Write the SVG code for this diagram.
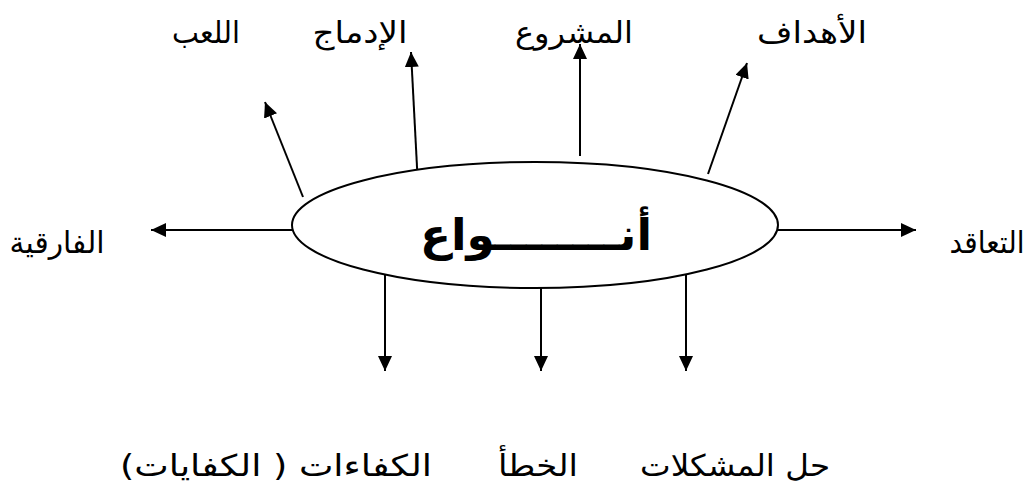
<svg xmlns="http://www.w3.org/2000/svg" width="1031" height="490" viewBox="0 0 1031 490">
  <style>
    .lbl { font-family: "DejaVu Sans", "Noto Sans", sans-serif; font-size: 30px; fill: #000; text-anchor: middle; }
    .title { font-family: "DejaVu Sans", "Noto Sans", sans-serif; font-size: 44px; font-weight: bold; fill: #000; text-anchor: middle; }
    .conn line { stroke: #000; stroke-width: 2; marker-end: url(#head); }
  </style>
  <defs>
    <!-- solid triangular arrowhead shared by all spokes -->
    <marker id="head" viewBox="0 0 15 14" refX="15" refY="7" markerWidth="15" markerHeight="14" markerUnits="userSpaceOnUse" orient="auto">
      <path d="M0,0 L15,7 L0,14 Z" fill="#000"/>
    </marker>
  </defs>
  <rect width="1031" height="490" fill="#fff"/>

  <g id="connectors" class="conn">
    <line x1="580" y1="156" x2="580" y2="44"/>
    <line x1="418" y1="186" x2="411" y2="52"/>
    <line x1="303" y1="197" x2="265" y2="102"/>
    <line x1="708" y1="174" x2="747" y2="63"/>
    <line x1="292" y1="230" x2="151" y2="230"/>
    <line x1="778" y1="230" x2="916" y2="230"/>
    <line x1="385" y1="270" x2="385" y2="371"/>
    <line x1="541" y1="288" x2="541" y2="371"/>
    <line x1="686" y1="272" x2="686" y2="371"/>
  </g>

  <g id="center">
    <ellipse cx="535" cy="225" rx="243" ry="63" fill="#fff" stroke="#000" stroke-width="2"/>
    <text class="title" x="536" y="250" direction="rtl" textLength="232" lengthAdjust="spacingAndGlyphs">أنــــــــواع</text>
  </g>

  <g id="n-play"><text class="lbl" x="206" y="43" direction="rtl" textLength="68" lengthAdjust="spacingAndGlyphs">اللعب</text></g>
  <g id="n-integration"><text class="lbl" x="360" y="43" direction="rtl" textLength="95" lengthAdjust="spacingAndGlyphs">الإدماج</text></g>
  <g id="n-project"><text class="lbl" x="574" y="43" direction="rtl" textLength="118" lengthAdjust="spacingAndGlyphs">المشروع</text></g>
  <g id="n-objectives"><text class="lbl" x="812" y="43" direction="rtl" textLength="110" lengthAdjust="spacingAndGlyphs">الأهداف</text></g>
  <g id="n-differentiated"><text class="lbl" x="57" y="253" direction="rtl" textLength="95" lengthAdjust="spacingAndGlyphs">الفارقية</text></g>
  <g id="n-contract"><text class="lbl" x="987" y="253" direction="rtl" textLength="75" lengthAdjust="spacingAndGlyphs">التعاقد</text></g>
  <g id="n-problems"><text class="lbl" x="735" y="476" direction="rtl" textLength="190" lengthAdjust="spacingAndGlyphs">حل المشكلات</text></g>
  <g id="n-error"><text class="lbl" x="538" y="476" direction="rtl" textLength="80" lengthAdjust="spacingAndGlyphs">الخطأ</text></g>
  <g id="n-competencies"><text class="lbl" x="276" y="476" direction="rtl" textLength="312" lengthAdjust="spacingAndGlyphs">الكفاءات ( الكفايات)</text></g>
</svg>
